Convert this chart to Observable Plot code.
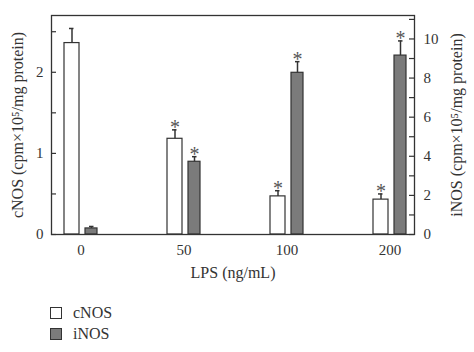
<!DOCTYPE html>
<html><head><meta charset="utf-8">
<script src="https://cdn.jsdelivr.net/npm/d3@7"></script>
<script src="https://cdn.jsdelivr.net/npm/@observablehq/plot@0.6"></script>
<style>
body{margin:0;background:#fff;font-family:"Liberation Serif","Times New Roman",serif;color:#333;}
#legend{padding-top:2px;margin-left:50px;font-size:16px;}
.row{display:flex;align-items:center;height:21px;}
.sw{width:12px;height:12px;box-sizing:border-box;border:1px solid #333;margin-right:11px;}
</style></head><body><div id="chart"></div>
<div id="legend">
<div class="row"><div class="sw" style="background:#fff"></div><span>cNOS</span></div>
<div class="row"><div class="sw" style="background:#7b7b7b"></div><span>iNOS</span></div>
</div>
<script>
const lps = ["0", "50", "100", "200"];
const cnos = [2.36, 1.18, 0.47, 0.43];
const cnosErr = [0.18, 0.11, 0.07, 0.07];
const cnosSig = [false, true, true, true];
const inos = [0.31, 3.72, 8.27, 9.15];
const inosErr = [0.10, 0.26, 0.57, 0.75];
const inosSig = [false, true, true, true];
const leftTicks = [0, 1, 2];
const leftMinor = [0, 0.5, 1, 1.5, 2, 2.5];
const rightTicks = [0, 2, 4, 6, 8, 10];
const rightMinor = [0, 1, 2, 3, 4, 5, 6, 7, 8, 9, 10, 11];
const leftMax = 2.7, rightMax = 11.2;

const toLeft = d3.scaleLinear([0, rightMax], [0, leftMax]);
const cRows = lps.map((k, i) => ({k, v: cnos[i], top: cnos[i] + cnosErr[i], sig: cnosSig[i]}));
const iRows = lps.map((k, i) => ({k, v: toLeft(inos[i]), top: toLeft(inos[i] + inosErr[i]), sig: inosSig[i]}));

const W = 474, H = 300, mL = 51, mR = 60, mT = 15, mB = 66;
const pw = W - mL - mR;
const ink = "#333";

const chart = Plot.plot({
  width: W, height: H,
  marginLeft: mL, marginRight: mR, marginTop: mT, marginBottom: mB,
  style: {fontFamily: "Liberation Serif, Times New Roman, serif", fontSize: "15px", color: ink, background: "#fff"},
  x: {domain: lps, paddingInner: 0.68, paddingOuter: 0.087, align: 0.6},
  y: {domain: [0, leftMax]},
  marks: [
    Plot.barY(cRows, {x: "k", y: "v", fill: "#fff", stroke: ink, strokeWidth: 1.2, insetRight: 18}),
    Plot.barY(iRows, {x: "k", y: "v", fill: "#7b7b7b", stroke: ink, strokeWidth: 1.2, insetLeft: 21}),
    Plot.ruleX(cRows, {x: "k", y1: "v", y2: "top", dx: -9, stroke: ink, strokeWidth: 1.5}),
    Plot.ruleX(iRows, {x: "k", y1: "v", y2: "top", dx: 10.5, stroke: ink, strokeWidth: 1.5}),
    Plot.tickY(cRows, {x: "k", y: "top", insetLeft: 5, insetRight: 23.5, stroke: ink, strokeWidth: 1.5}),
    Plot.tickY(iRows, {x: "k", y: "top", insetLeft: 25, insetRight: 3.5, stroke: ink, strokeWidth: 1.5}),
    Plot.text(cRows.filter(d => d.sig), {x: "k", y: "top", text: () => "*", dx: -9, dy: 4, lineAnchor: "bottom", fontSize: 20, fill: "#555"}),
    Plot.text(iRows.filter(d => d.sig), {x: "k", y: "top", text: () => "*", dx: 10.5, dy: 4, lineAnchor: "bottom", fontSize: 20, fill: "#555"}),
    Plot.ruleY(leftMinor, {y: d => d, insetRight: pw - 5, stroke: ink, strokeWidth: 1.2}),
    Plot.ruleY(rightMinor.map(d => toLeft(d)), {y: d => d, insetLeft: pw - 5, stroke: ink, strokeWidth: 1.2}),
    Plot.frame({stroke: ink, strokeWidth: 1.3}),
    Plot.axisY(leftTicks, {anchor: "left", tickSize: 0, tickPadding: 8, label: null, tickFormat: d => String(d)}),
    Plot.axisY(rightTicks.map(d => toLeft(d)), {anchor: "right", tickSize: 0, tickPadding: 9, label: null, tickFormat: d => String(Math.round(toLeft.invert(d)))}),
    Plot.axisX({tickSize: 0, tickPadding: 10, label: null}),
    Plot.text(["LPS (ng/mL)"], {frameAnchor: "bottom", dy: 43, fontSize: 16}),
    Plot.text(["cNOS (cpm×10⁵/mg protein)"], {frameAnchor: "left", textAnchor: "middle", dx: -34, rotate: -90, fontSize: 16}),
    Plot.text(["iNOS (cpm×10⁵/mg protein)"], {frameAnchor: "right", textAnchor: "middle", dx: 42, rotate: -90, fontSize: 16})
  ]
});
document.getElementById("chart").appendChild(chart);
</script>
</body></html>
